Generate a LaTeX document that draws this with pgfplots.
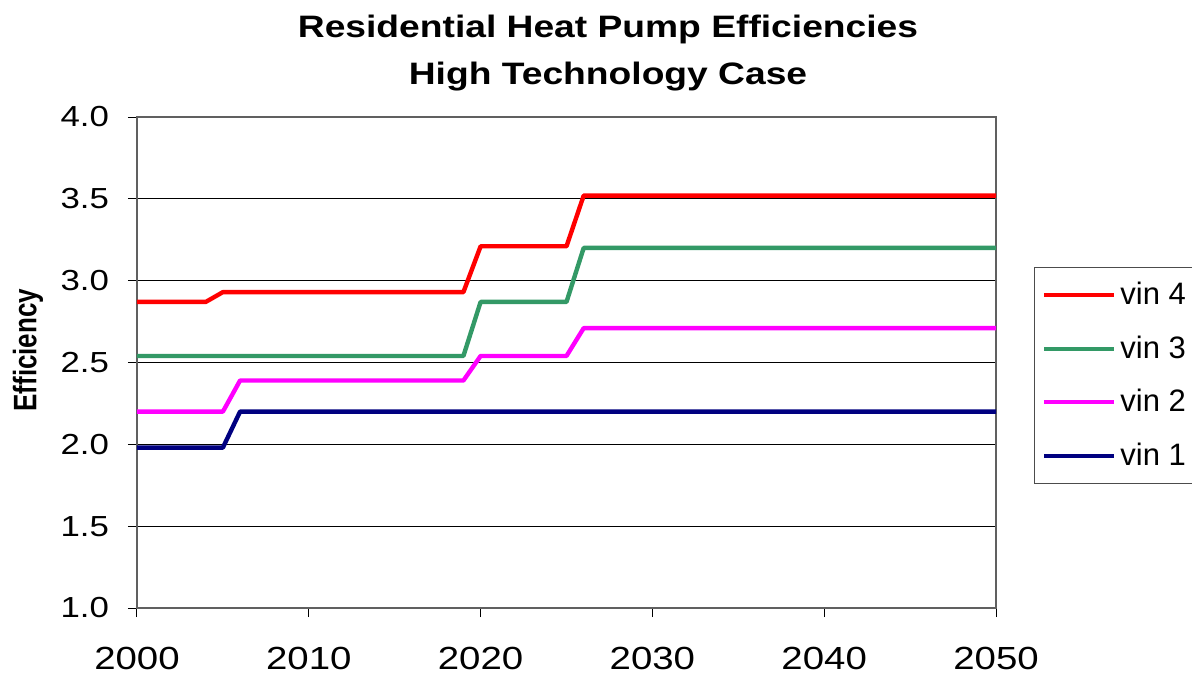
\documentclass[border=0pt]{standalone}
\usepackage{fontspec}
\setmainfont{Liberation Sans}[FakeStretch=1.2]
\newfontfamily\plainsans{Liberation Sans}
\usepackage{pgfplots}
\pgfplotsset{compat=1.18}

\definecolor{vinred}{RGB}{255,0,0}
\definecolor{vingreen}{RGB}{51,153,102}
\definecolor{vinmag}{RGB}{255,0,255}
\definecolor{vinnavy}{RGB}{0,0,128}

\begin{document}
\begin{tikzpicture}
% page = 1192x675 px at 0.5pt per px, axis box at origin
\useasboundingbox (-68.5pt,-33.5pt) rectangle (527.5pt,304pt);
\begin{axis}[
    scale only axis,
    width=429.5pt, height=245.5pt,
    xmin=2000, xmax=2050,
    ymin=1, ymax=4,
    xtick={2000,2010,...,2050},
    ytick={1,1.5,...,4},
    ymajorgrids,
    grid style={black, line width=0.5pt},
    axis line style={draw=gray!75!black, line width=0.9pt},
    tick style={black, line width=0.5pt},
    tick align=outside,
    major tick length=4.5pt,
    xtick pos=bottom, ytick pos=left,
    /pgf/number format/assume math mode=true,
    xticklabel style={/pgf/number format/1000 sep=, font=\fontsize{16}{16}\selectfont, anchor=base, yshift=-26pt},
    yticklabel style={/pgf/number format/fixed, /pgf/number format/fixed zerofill, /pgf/number format/precision=1,
        font=\fontsize{14.5}{15}\selectfont, anchor=east, xshift=-6pt},
    ylabel={\scalebox{1}[1.25]{Efficiency}},
    ylabel style={at={(axis description cs:-0.127,0.525)}, anchor=center,
        font=\plainsans\bfseries\fontsize{13}{13}\selectfont},
    legend style={at={(rel axis cs:1.0442,0.6945)}, anchor=north west,
        draw=black!70, line width=0.5pt, font=\plainsans\fontsize{15.5}{16}\selectfont,
        row sep=10pt, inner xsep=4pt, inner ysep=5.5pt, legend cell align=left},
    legend image code/.code={\draw[#1, line width=2pt] (0pt,0pt) -- (35pt,0pt);},
    every axis plot/.append style={line width=2.2pt, line join=round},
]
\addplot[vinred] coordinates {(2000,2.87) (2004,2.87) (2005,2.93) (2019,2.93) (2020,3.21) (2025,3.21) (2026,3.52) (2050,3.52)};
\addlegendentry{vin 4}
\addplot[vingreen] coordinates {(2000,2.54) (2019,2.54) (2020,2.87) (2025,2.87) (2026,3.20) (2050,3.20)};
\addlegendentry{vin 3}
\addplot[vinmag] coordinates {(2000,2.20) (2005,2.20) (2006,2.39) (2019,2.39) (2020,2.54) (2025,2.54) (2026,2.71) (2050,2.71)};
\addlegendentry{vin 2}
\addplot[vinnavy] coordinates {(2000,1.98) (2005,1.98) (2006,2.20) (2050,2.20)};
\addlegendentry{vin 1}
\end{axis}
\node[align=center, font=\bfseries\fontsize{15.5}{23.5}\selectfont] at (235.5pt,277.5pt)
    {Residential Heat Pump Efficiencies\\High Technology Case};
\end{tikzpicture}
\end{document}
